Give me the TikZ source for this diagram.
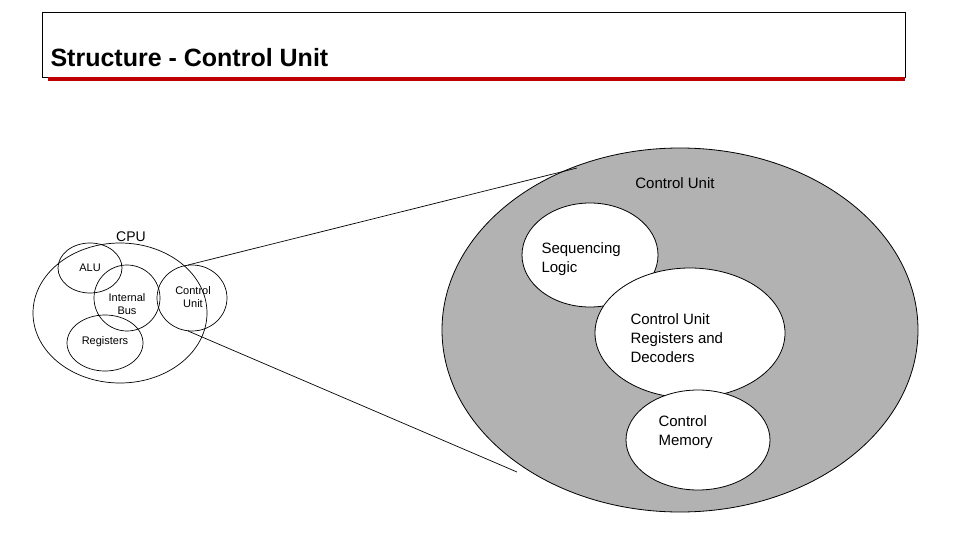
\documentclass[tikz,border=0pt]{standalone}
\usepackage{fontspec}
\setmainfont{Liberation Sans}
\begin{document}
\begin{tikzpicture}[x=1pt,y=-1pt,
  el/.style={draw=black,line width=0.8pt,fill=white},
  sm/.style={font=\fontsize{11}{13.5}\selectfont,align=center},
  md/.style={font=\fontsize{15}{19}\selectfont,align=left}]
\useasboundingbox (0,0) rectangle (960,540);
\node[draw=black,line width=0.6pt,minimum width=863pt,minimum height=65pt,anchor=north west] (tb) at (42,12) {};
\draw[red!75!black,line width=4pt] (48,79) -- (905,79);
\node[anchor=base west,font=\bfseries\fontsize{25}{28}\selectfont] (title) at (47,67) {Structure - Control Unit};
% big ellipse
\fill[gray!60] (680,330) ellipse [x radius=238, y radius=182];
\draw[line width=0.8pt] (680,330) ellipse [x radius=238, y radius=182];
\node[font=\fontsize{15}{17}\selectfont] (cul) at (675,183) {Control Unit};
\draw[el] (590,255) ellipse [x radius=68, y radius=52];
\draw[el] (690,333) ellipse [x radius=95, y radius=65];
\draw[el] (698,440) ellipse [x radius=72, y radius=50];
\node[md,anchor=north west] (seq) at (538,239) {Sequencing\\Logic};
\node[md,anchor=north west] (reg) at (627,310) {Control Unit\\Registers and\\Decoders};
\node[md,anchor=north west] (mem) at (655,412) {Control\\Memory};
% CPU
\draw[line width=0.7pt] (120,313) ellipse [x radius=87, y radius=70];
\draw[line width=0.7pt] (90,268) ellipse [x radius=32, y radius=25];
\draw[line width=0.7pt] (127,298) ellipse [x radius=33, y radius=33];
\draw[line width=0.7pt] (105,343) ellipse [x radius=38, y radius=28];
\draw[line width=0.7pt] (192,298) ellipse [x radius=35, y radius=33];
\node[font=\fontsize{14}{16}\selectfont] (cpu) at (131,237) {CPU};
\node[sm] (alu) at (90,268) {ALU};
\node[sm] (bus) at (127,304) {Internal\\Bus};
\node[sm] (regs) at (105,342) {Registers};
\node[sm] (cu) at (193,297) {Control\\Unit};
\coordinate (a1) at (188,265);
\coordinate (a2) at (577,168);
\coordinate (b1) at (188,331);
\coordinate (b2) at (517,472);
\draw[line width=0.7pt] (a1) -- (a2);
\draw[line width=0.7pt] (b1) -- (b2);
\end{tikzpicture}
\end{document}
